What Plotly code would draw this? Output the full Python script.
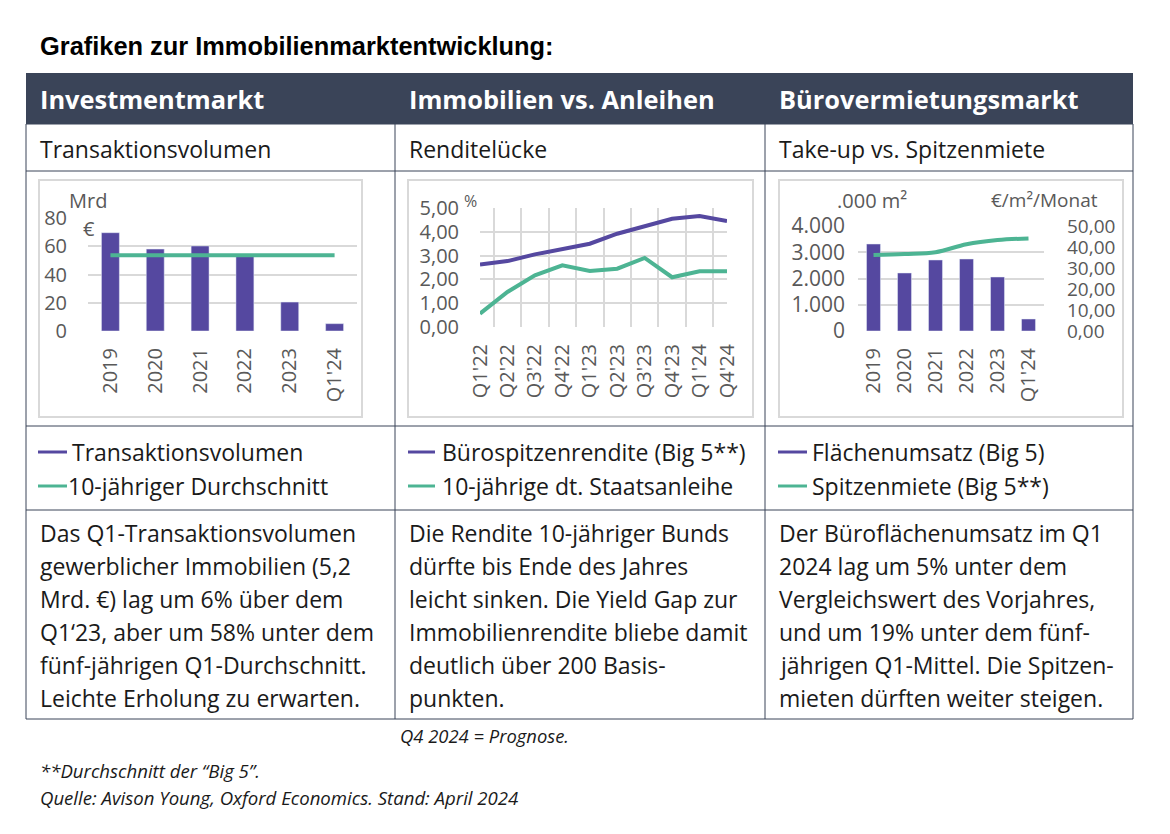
import plotly.graph_objects as go

W, H = 1170, 834

# ---------------- data ----------------
years = ["2019", "2020", "2021", "2022", "2023", "Q1'24"]
invest_volume = [69.6, 58.0, 60.2, 53.0, 20.5, 5.2]
invest_avg10 = [53.6, 53.6, 53.6, 53.6, 53.6, 53.6]

quarters = ["Q1'22", "Q2'22", "Q3'22", "Q4'22", "Q1'23", "Q2'23", "Q3'23", "Q4'23", "Q1'24", "Q4'24"]
office_yield = [2.63, 2.77, 3.05, 3.29, 3.50, 3.92, 4.24, 4.55, 4.66, 4.45]
bund_yield = [0.56, 1.47, 2.17, 2.59, 2.35, 2.45, 2.90, 2.09, 2.34, 2.34]

takeup = [3314, 2210, 2705, 2743, 2057, 457]
prime_rent = [36.2, 36.7, 37.5, 41.3, 43.3, 44.1]

y1_ticks = [0, 20, 40, 60, 80]
y2_ticks = [0, 1, 2, 3, 4, 5]
y3_ticks = [0, 1000, 2000, 3000, 4000]
y3r_ticks = [0, 10, 20, 30, 40, 50]

headers = ["Investmentmarkt", "Immobilien vs. Anleihen", "Bürovermietungsmarkt"]
subheaders = ["Transaktionsvolumen", "Renditelücke", "Take-up vs. Spitzenmiete"]
legend_labels = [
    ["Transaktionsvolumen", "10-jähriger Durchschnitt"],
    ["Bürospitzenrendite (Big 5**)", "10-jährige dt. Staatsanleihe"],
    ["Flächenumsatz (Big 5)", "Spitzenmiete (Big 5**)"],
]
body_texts = [
    ["Das Q1-Transaktionsvolumen", "gewerblicher Immobilien (5,2", "Mrd. €) lag um 6% über dem",
     "Q1‘23, aber um 58% unter dem", "fünf-jährigen Q1-Durchschnitt.", "Leichte Erholung zu erwarten."],
    ["Die Rendite 10-jähriger Bunds", "dürfte bis Ende des Jahres", "leicht sinken. Die Yield Gap zur",
     "Immobilienrendite bliebe damit", "deutlich über 200 Basis-", "punkten."],
    ["Der Büroflächenumsatz im Q1", "2024 lag um 5% unter dem", "Vergleichswert des Vorjahres,",
     "und um 19% unter dem fünf-", "jährigen Q1-Mittel. Die Spitzen-", "mieten dürften weiter steigen."],
]

# ---------------- styles ----------------
PURPLE = "#5548a0"
GREEN = "#4db493"
HEAD = "#3a4458"
BORDER = "#3a4458"
GRID = "#d9d9d9"
TICK = "#595959"
TXT = "#1a1a1a"
FONT = "Open Sans"


def px(x):
    return x / W


def py(y):
    return 1 - y / H


fig = go.Figure()

# chart 1
fig.add_trace(go.Bar(x=years, y=invest_volume, marker_color=PURPLE, width=0.4,
                     xaxis="x", yaxis="y", showlegend=False))
fig.add_trace(go.Scatter(x=years, y=invest_avg10, mode="lines", line=dict(color=GREEN, width=4),
                         xaxis="x", yaxis="y", showlegend=False))
# chart 2
fig.add_trace(go.Scatter(x=quarters, y=office_yield, mode="lines", line=dict(color=PURPLE, width=4),
                         xaxis="x2", yaxis="y2", showlegend=False))
fig.add_trace(go.Scatter(x=quarters, y=bund_yield, mode="lines", line=dict(color=GREEN, width=4),
                         xaxis="x2", yaxis="y2", showlegend=False))
# chart 3
fig.add_trace(go.Bar(x=years, y=takeup, marker_color=PURPLE, width=0.45,
                     xaxis="x3", yaxis="y3", showlegend=False))
fig.add_trace(go.Scatter(x=years, y=prime_rent, mode="lines", line=dict(color=GREEN, width=4, shape="spline"),
                         xaxis="x3", yaxis="y4", showlegend=False))

tickfont = dict(family=FONT, size=20, color=TICK)

xcommon = dict(type="category", tickangle=-90, tickfont=tickfont, showline=False, zeroline=False,
               ticks="", ticklabelstandoff=12, fixedrange=True, automargin=False)
ycommon = dict(tickfont=tickfont, showline=False, zeroline=False, ticks="", gridcolor=GRID,
               gridwidth=1.5, fixedrange=True, automargin=False)

layout = dict(
    width=W, height=H, margin=dict(l=0, r=0, t=0, b=0, pad=0, autoexpand=False),
    paper_bgcolor="white", plot_bgcolor="white", separators=",.",
    font=dict(family=FONT, color=TXT),
    xaxis=dict(xcommon, domain=[px(88), px(357)], anchor="y", showgrid=False),
    yaxis=dict(ycommon, domain=[py(331), py(218)], anchor="x", range=[0, 80],
               tickvals=y1_ticks, ticklabelstandoff=20),
    xaxis2=dict(xcommon, domain=[px(480), px(727)], anchor="y2", showgrid=True, gridcolor=GRID,
                gridwidth=1.5, tickson="boundaries"),
    yaxis2=dict(ycommon, domain=[py(327), py(208)], anchor="x2", range=[0, 5],
                tickvals=y2_ticks, tickformat=".2f", ticklabelstandoff=20),
    xaxis3=dict(xcommon, domain=[px(858), px(1044)], anchor="y3", showgrid=False),
    yaxis3=dict(ycommon, domain=[py(331), py(226)], anchor="x3", range=[0, 4000],
                tickvals=y3_ticks, tickformat=",d", ticklabelstandoff=12,
                tickfont=dict(family=FONT, size=21, color=TICK)),
    yaxis4=dict(ycommon, overlaying="y3", side="right", anchor="x3", range=[0, 50],
                tickvals=y3r_ticks, tickformat=".2f", showgrid=False, ticklabelstandoff=22,
                tickfont=dict(family=FONT, size=19, color=TICK)),
    bargap=0.5,
)
fig.update_layout(**layout)

shapes = []
ann = []

# title
ann.append(dict(x=px(38), y=py(46), text="<b>Grafiken zur Immobilienmarktentwicklung:</b>",
                font=dict(family="Liberation Sans, Arial", size=25.4, color="#000000")))

# header bar
shapes.append(dict(type="rect", x0=px(26), x1=px(1133), y0=py(73), y1=py(124),
                   fillcolor=HEAD, line=dict(width=0), layer="below"))

col_x = [26, 395, 765, 1133]
text_x = [38, 407, 777]
for i in range(3):
    ann.append(dict(x=px(text_x[i]), y=py(99), text="<b>" + headers[i] + "</b>",
                    font=dict(family=FONT, size=25.4, color="white")))
    ann.append(dict(x=px(text_x[i]), y=py(149), text=subheaders[i],
                    font=dict(family=FONT, size=23, color=TXT)))

# table grid lines
for yline in [124, 171, 426, 510, 719]:
    shapes.append(dict(type="line", x0=px(26), x1=px(1133), y0=py(yline), y1=py(yline),
                       line=dict(color=BORDER, width=1)))
for xline in col_x:
    shapes.append(dict(type="line", x0=px(xline), x1=px(xline), y0=py(124), y1=py(719),
                       line=dict(color=BORDER, width=1)))

# chart boxes
for (x0, x1) in [(39, 362), (408, 753), (779, 1123)]:
    shapes.append(dict(type="rect", x0=px(x0), x1=px(x1), y0=py(180), y1=py(417),
                       line=dict(color=GRID, width=2), fillcolor="rgba(0,0,0,0)", layer="below"))

# axis titles
ann.append(dict(x=px(88), y=py(200), text="Mrd", xanchor="center", font=dict(family=FONT, size=20, color=TICK)))
ann.append(dict(x=px(89), y=py(228), text="€", xanchor="center", font=dict(family=FONT, size=20, color=TICK)))
ann.append(dict(x=px(470), y=py(201), text="%", xanchor="center", font=dict(family=FONT, size=16, color=TICK)))
ann.append(dict(x=px(872), y=py(200), text=".000 m²", xanchor="center", font=dict(family=FONT, size=20, color=TICK)))
ann.append(dict(x=px(1044), y=py(200), text="€/m²/Monat", xanchor="center", font=dict(family=FONT, size=19, color=TICK)))

# custom legends
leg_marker = [(38, 67), (408, 435), (778, 807)]
leg_text_x = [[70, 66], [440, 440], [810, 810]]
for i in range(3):
    for j, (label, col) in enumerate(zip(legend_labels[i], [PURPLE, GREEN])):
        yy = [452, 486][j]
        shapes.append(dict(type="line", x0=px(leg_marker[i][0]), x1=px(leg_marker[i][1]),
                           y0=py(yy), y1=py(yy), line=dict(color=col, width=3)))
        ann.append(dict(x=px(leg_text_x[i][j]), y=py(yy), text=label,
                        font=dict(family=FONT, size=23, color=TXT)))

# body texts
for i in range(3):
    for k, line in enumerate(body_texts[i]):
        ann.append(dict(x=px(text_x[i]), y=py(533 + 33 * k), text=line,
                        font=dict(family=FONT, size=23, color=TXT)))

# footnotes
ann.append(dict(x=px(398), y=py(735), text="<i>Q4 2024 = Prognose.</i>", font=dict(family=FONT, size=18.4, color=TXT)))
ann.append(dict(x=px(38), y=py(770), text="<i>**Durchschnitt der “Big 5”.</i>", font=dict(family=FONT, size=18.6, color=TXT)))
ann.append(dict(x=px(38), y=py(797), text="<i>Quelle: Avison Young, Oxford Economics. Stand: April 2024</i>",
                font=dict(family=FONT, size=18.6, color=TXT)))

for a in ann:
    a.setdefault("xref", "paper")
    a.setdefault("yref", "paper")
    a.setdefault("xanchor", "left")
    a.setdefault("yanchor", "middle")
    a.setdefault("showarrow", False)
for s in shapes:
    s.setdefault("xref", "paper")
    s.setdefault("yref", "paper")

fig.update_layout(shapes=shapes, annotations=ann)

fig.write_html("out.html", config={"displayModeBar": False},
               post_script="document.body.style.margin='0';")
